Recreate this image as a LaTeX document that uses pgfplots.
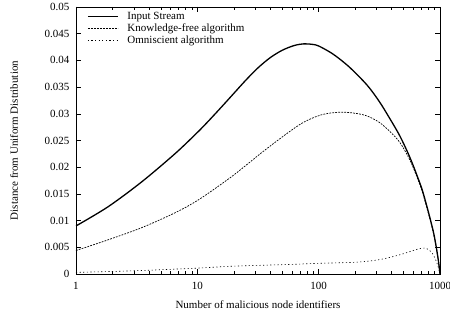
\documentclass[border=0pt]{standalone}
\usepackage{fontspec}
\setmainfont{Liberation Serif}
\usepackage{pgfplots}
\pgfplotsset{compat=1.18}
\begin{document}
\begin{tikzpicture}
\begin{axis}[
  at={(0pt,0pt)}, anchor=south west,
  scale only axis, width=364pt, height=267pt,
  xmode=log, xmin=1, xmax=1000,
  ymin=0, ymax=0.05,
  xtick={1,10,100,1000}, xticklabels={1,10,100,1000},
  ytick={0,0.005,0.01,0.015,0.02,0.025,0.03,0.035,0.04,0.045,0.05},
  yticklabels={0,0.005,0.01,0.015,0.02,0.025,0.03,0.035,0.04,0.045,0.05},
  tick align=inside, major tick length=5pt, minor tick length=3pt,
  tick style={black, line width=0.5pt},
  axis line style={line width=0.9pt},
  /pgf/number format/assume math mode=true,
  tick label style={font=\fontsize{11}{13}\selectfont},
  xticklabel style={yshift=-5pt},
  yticklabel style={xshift=-3pt},
  label style={font=\fontsize{11}{13}\selectfont},
  xlabel={Number of malicious node identifiers},
  ylabel={Distance from Uniform Distribution},
  xlabel style={at={(axis description cs:0.5,0)}, anchor=center, yshift=-31pt},
  ylabel style={at={(axis description cs:-0.1703,0.5)}, anchor=center},
  legend style={at={(axis description cs:0,1)}, anchor=north west, xshift=10pt, yshift=-2pt,
    draw=none, fill=none, font=\fontsize{11}{13}\selectfont, row sep=-1pt, column sep=7pt, inner sep=1pt},
  legend cell align=left,
  legend image code/.code={\draw[#1] (0pt,0pt) -- (30pt,0pt);},
]
\addplot[black, line width=1.3pt, smooth] coordinates {
(1,0.0090) (1.84,0.0126) (3.5,0.0173) (6.6,0.0226) (10,0.0265) (12.3,0.0286) (15.85,0.0313) (19.95,0.0338) (25.1,0.0363) (31.6,0.0386) (39.8,0.0405) (50.1,0.0419) (63.1,0.0428) (75.9,0.0431) (89,0.0430) (100,0.0427) (131,0.0412) (178,0.0388) (250,0.0354) (316,0.0323) (386,0.0291) (468,0.0258) (563,0.0219) (650,0.0183) (728,0.0151) (876,0.0082) (960,0.0032) (1000,0.0000)
};
\addlegendentry{Input Stream}
\addplot[black, line width=0.7pt, dash pattern=on 1.8pt off 1.2pt, smooth] coordinates {
(1,0.0044) (1.84,0.0064) (3.5,0.0087) (6.6,0.0115) (10.4,0.0140) (19.6,0.0184) (37,0.0234) (70,0.0280) (105,0.0298) (149,0.0303) (200,0.0301) (250,0.0296) (316,0.0284) (386,0.0267) (468,0.0246) (563,0.0214) (650,0.0180) (728,0.0148) (876,0.0080) (960,0.0031) (1000,0.0000)
};
\addlegendentry{Knowledge-free algorithm}
\addplot[black, line width=0.6pt, dash pattern=on 1.2pt off 2.4pt, smooth] coordinates {
(1,0.0003) (3,0.0006) (10,0.0011) (17,0.0014) (30,0.0016) (60,0.0018) (100,0.0020) (200,0.0022) (300,0.0026) (400,0.0032) (500,0.0038) (600,0.0044) (700,0.0048) (770,0.0048) (850,0.0041) (920,0.0027) (970,0.0012) (1000,0.0000)
};
\addlegendentry{Omniscient algorithm}
\end{axis}
\pgfresetboundingbox
\path[use as bounding box] (-76pt,-42pt) rectangle (374pt,274pt);
\end{tikzpicture}
\end{document}
